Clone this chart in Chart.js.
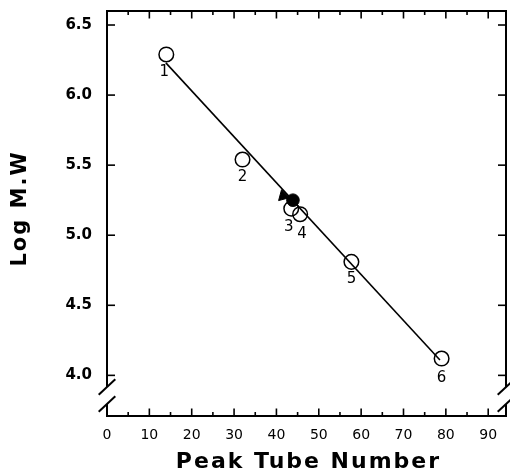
<!DOCTYPE html>
<html><head><meta charset="utf-8">
<script src="https://cdn.jsdelivr.net/npm/chart.js@4/dist/chart.umd.min.js"></script>
<style>html,body{margin:0;padding:0;background:#fff}#wrap{width:510px;height:476px}</style>
</head><body><div id="wrap"><canvas id="c" width="510" height="476"></canvas></div>
<script>
// ---- data ----
const tubeNumbers = [14, 32, 43.5, 45.6, 57.7, 79.0];
const logMW       = [6.29, 5.54, 5.19, 5.15, 4.81, 4.12];
const pointLabels = ['1', '2', '3', '4', '5', '6'];
const filledX = [43.9];
const filledY = [5.25];
const triangleX = [41.6];
const triangleY = [5.28];
const fitX = [13.9, 78.6];
const fitY = [6.23, 4.11];
const xTicks = [0, 10, 20, 30, 40, 50, 60, 70, 80, 90];
const xMinorTicks = [5, 15, 25, 35, 45, 55, 65, 75, 85];
const yTicks = [4.0, 4.5, 5.0, 5.5, 6.0, 6.5];
const xTitle = 'Peak Tube Number';
const yTitle = 'Log M.W';

const pts = (xs, ys) => xs.map((x, i) => ({x: x, y: ys[i]}));
const zeroPad = s => { s.paddingTop = 0; s.paddingBottom = 0; s.paddingLeft = 0; s.paddingRight = 0; };

const framePlugin = {
  id: 'frame',
  afterDraw(chart) {
    const ctx = chart.ctx;
    const xs = chart.scales.x, ys = chart.scales.y;
    const L = chart.chartArea.left, R = chart.chartArea.right;
    const T = chart.chartArea.top, B = chart.chartArea.bottom;
    ctx.save();
    ctx.strokeStyle = '#000';
    ctx.lineWidth = 2;
    ctx.lineCap = 'butt';
    const line = (x1, y1, x2, y2) => { ctx.beginPath(); ctx.moveTo(x1, y1); ctx.lineTo(x2, y2); ctx.stroke(); };
    line(L - 1, T, R + 1, T);
    line(L - 1, B, R + 1, B);
    const b1 = B - 29, b2 = B - 12;
    [L, R].forEach(X => {
      line(X, T, X, b1);
      line(X, b2, X, B);
      line(X - 8.3, b1 + 7.7, X + 8.3, b1 - 7.7);
      line(X - 8.3, b2 + 7.7, X + 8.3, b2 - 7.7);
    });
    ctx.lineWidth = 1.6;
    xTicks.forEach(v => {
      const p = xs.getPixelForValue(v);
      line(p, B, p, B - 7.5);
      line(p, T, p, T + 7.5);
    });
    xMinorTicks.forEach(v => {
      const p = xs.getPixelForValue(v);
      line(p, B, p, B - 4);
      line(p, T, p, T + 4);
    });
    yTicks.forEach(v => {
      const p = ys.getPixelForValue(v);
      line(L, p, L + 8, p);
      line(R, p, R - 8, p);
    });
    ctx.fillStyle = '#000';
    ctx.font = 'bold 22px "DejaVu Sans"';
    ctx.letterSpacing = '2px';
    ctx.textAlign = 'center';
    ctx.textBaseline = 'middle';
    ctx.fillText(xTitle, (xs.left + xs.right) / 2 + 2, 462);
    ctx.save();
    ctx.translate(21, (T + B) / 2 - 5);
    ctx.rotate(-Math.PI / 2);
    ctx.font = 'bold 21px "DejaVu Sans"';
    ctx.fillText(yTitle, 0, 0);
    ctx.restore();
    ctx.restore();
  }
};

const labelOffsets = [[-2, 17.5], [0, 18], [-2.5, 18.5], [2, 20], [0, 17.5], [0, 19.5]];
const labelPlugin = {
  id: 'ptlabels',
  afterDatasetsDraw(chart) {
    const ctx = chart.ctx;
    const xs = chart.scales.x, ys = chart.scales.y;
    ctx.save();
    ctx.fillStyle = '#000';
    ctx.font = '15px "DejaVu Sans"';
    ctx.textAlign = 'center';
    ctx.textBaseline = 'middle';
    pointLabels.forEach((t, i) => {
      const px = xs.getPixelForValue(tubeNumbers[i]) + labelOffsets[i][0];
      const py = ys.getPixelForValue(logMW[i]) + labelOffsets[i][1];
      ctx.fillText(t, px, py);
    });
    ctx.restore();
  }
};

new Chart(document.getElementById('c'), {
  type: 'scatter',
  data: {
    datasets: [
      {data: pts(fitX, fitY), showLine: true, borderColor: '#000', borderWidth: 1.6,
       pointRadius: 0, fill: false, tension: 0},
      {data: pts(tubeNumbers, logMW), pointStyle: 'circle', pointRadius: 7.3,
       borderColor: '#000', borderWidth: 1.5, backgroundColor: 'rgba(0,0,0,0)'},
      {data: pts(filledX, filledY), pointStyle: 'circle', pointRadius: 6.3,
       borderColor: '#000', borderWidth: 1, backgroundColor: '#000'},
      {data: pts(triangleX, triangleY), pointStyle: 'triangle', pointRadius: 6.5, rotation: -15,
       borderColor: '#000', borderWidth: 1, backgroundColor: '#000'}
    ]
  },
  options: {
    responsive: false, animation: false, devicePixelRatio: 1,
    layout: {autoPadding: false, padding: {left: 0, right: 4, top: 11, bottom: 0}},
    plugins: {legend: {display: false}, tooltip: {enabled: false}},
    scales: {
      x: {
        type: 'linear', min: 0, max: 94.2,
        grid: {display: false, drawTicks: false}, border: {display: false},
        afterBuildTicks: s => { s.ticks = xTicks.map(v => ({value: v})); },
        afterFit: s => { s.height = 60; zeroPad(s); },
        ticks: {padding: 11, color: '#000', autoSkip: false, maxRotation: 0,
                font: {family: 'DejaVu Sans', size: 14}, callback: v => String(v)}
      },
      y: {
        type: 'linear', min: 3.71, max: 6.6,
        grid: {display: false, drawTicks: false}, border: {display: false},
        afterBuildTicks: s => { s.ticks = yTicks.map(v => ({value: v})); },
        afterFit: s => { s.width = 107; zeroPad(s); },
        ticks: {padding: 15, color: '#000', autoSkip: false,
                font: {family: 'DejaVu Sans', size: 15, weight: 'bold'}, callback: v => Number(v).toFixed(1)}
      }
    }
  },
  plugins: [framePlugin, labelPlugin]
});
</script></body></html>
